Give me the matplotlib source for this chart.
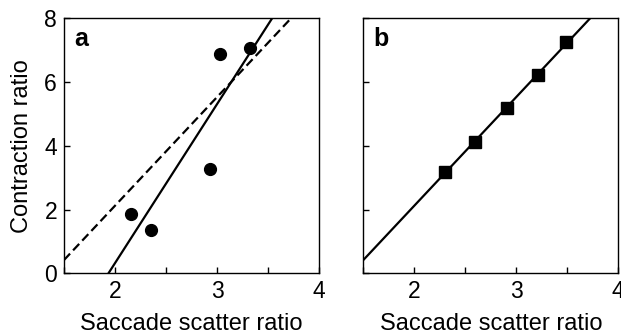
import numpy as np
import matplotlib
matplotlib.use("Agg")
import matplotlib.pyplot as plt

plt.rcParams['font.family'] = ['Liberation Sans', 'DejaVu Sans']

# panel a data
a_x = [2.16, 2.35, 2.93, 3.03, 3.32]
a_y = [1.85, 1.36, 3.26, 6.87, 7.07]
a_fit_solid = (4.99, -9.66)   # slope, intercept
a_fit_dashed = (3.41, -4.70)

# panel b data
b_x = [2.30, 2.60, 2.91, 3.21, 3.49]
b_y = [3.17, 4.13, 5.19, 6.22, 7.26]
b_fit = (3.41, -4.70)

xticks = [1.5, 2, 2.5, 3, 3.5, 4]
xticklabels = ['', '2', '', '3', '', '4']
yticks = [0, 2, 4, 6, 8]

fig = plt.figure(figsize=(6.21, 3.36), dpi=100)
ax1 = fig.add_axes([0.103, 0.1866, 0.411, 0.759])
ax2 = fig.add_axes([0.585, 0.1866, 0.4106, 0.759])

xx = np.linspace(1.5, 4, 50)

def style(ax, show_y):
    ax.set_xlim(1.5, 4)
    ax.set_ylim(0, 8)
    ax.set_xticks(xticks)
    ax.set_xticklabels(xticklabels)
    ax.set_yticks(yticks)
    if show_y:
        ax.set_yticklabels([str(v) for v in yticks])
    else:
        ax.set_yticklabels([])
    ax.tick_params(direction='in', length=4, width=1, labelsize=16.5, pad=5, colors='black')
    for s in ax.spines.values():
        s.set_linewidth(1)
    ax.set_xlabel('Saccade scatter ratio', fontsize=17, labelpad=7)

ax1.plot(xx, a_fit_solid[0] * xx + a_fit_solid[1], color='black', lw=1.6)
ax1.plot(xx, a_fit_dashed[0] * xx + a_fit_dashed[1], color='black', lw=1.6, linestyle=(0, (4, 2)))
ax1.plot(a_x, a_y, 'o', color='black', markersize=8.5, clip_on=False)
style(ax1, True)
ax1.set_ylabel('Contraction ratio', fontsize=17, labelpad=8)
ax1.text(0.04, 0.965, 'a', transform=ax1.transAxes, fontsize=18, fontweight='bold', va='top')

ax2.plot(xx, b_fit[0] * xx + b_fit[1], color='black', lw=1.6)
ax2.plot(b_x, b_y, 's', color='black', markersize=8.5)
style(ax2, False)
ax2.text(0.04, 0.965, 'b', transform=ax2.transAxes, fontsize=18, fontweight='bold', va='top')

fig.savefig('out.png', dpi=100)
